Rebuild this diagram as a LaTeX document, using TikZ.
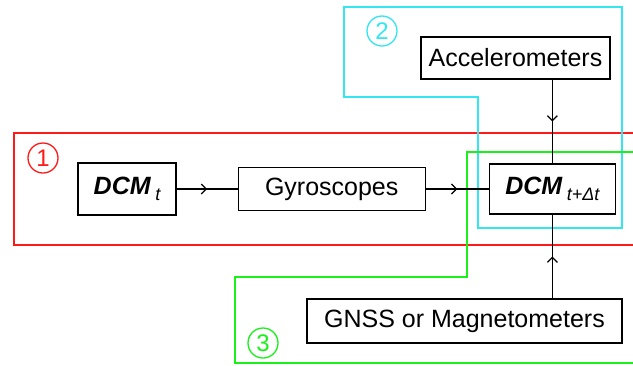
\documentclass[tikz,border=0pt]{standalone}
\usepackage{fontspec}
\setmainfont{Liberation Sans}
\usepackage{xcolor}
\usetikzlibrary{positioning,arrows.meta,decorations.markings}
\definecolor{groupred}{HTML}{FF1A1A}
\definecolor{groupcyan}{HTML}{33E6F0}
\definecolor{groupgreen}{HTML}{1AF01A}
\newcommand{\dcmlabel}[1]{\textbf{\textit{DCM}}\,\raisebox{-0.45ex}{\fontsize{18}{20}\selectfont\itshape #1}}

\begin{document}
\begin{tikzpicture}[
  x=1pt, y=-1pt,
  sensorbox/.style={
    rectangle, draw=black, line width=1.2pt, fill=white,
    inner sep=0pt, font=\fontsize{25}{30}\selectfont,
  },
  groupline/.style={line width=1.5pt},
  tagnum/.style={
    circle, draw, line width=1.3pt, minimum size=30pt,
    inner sep=0pt, font=\fontsize{24}{28}\selectfont,
  },
  flow/.style={
    line width=1.2pt,
    decoration={markings, mark=at position 0.5 with {\arrow{Straight Barb[length=5pt,width=10pt,line width=1.2pt]}}},
    postaction=decorate,
  },
]
\useasboundingbox (0,0) rectangle (633,365);
\clip (0,0) rectangle (633,365);

% group outlines
\draw[groupline, draw=groupred] (14,133) rectangle (645,245);
\draw[groupline, draw=groupcyan] (344,7) -- (622,7) -- (622,228) -- (478,228) -- (478,97) -- (344,97) -- cycle;
\draw[groupline, draw=groupgreen] (645,152) -- (467,152) -- (467,277) -- (235,277) -- (235,363) -- (645,363);

\node[tagnum, draw=groupred, text=groupred] (num1) at (43,158) {1};
\node[tagnum, draw=groupcyan, text=groupcyan] (num2) at (382,31) {2};
\node[tagnum, draw=groupgreen, text=groupgreen] (num3) at (263,343) {3};

% blocks
\node[sensorbox, minimum width=98pt, minimum height=52pt] (dcmt) at (127,189) {\dcmlabel{t}};
\node[sensorbox, minimum width=187pt, minimum height=43pt, right=61pt of dcmt] (gyro) {Gyroscopes};
\node[sensorbox, minimum width=126pt, minimum height=50pt, right=63pt of gyro] (dcmnext) {\dcmlabel{t+Δt}};
\node[sensorbox, minimum width=189pt, minimum height=42pt] (accel) at (515.5,58) {Accelerometers};
\node[sensorbox, minimum width=315pt, minimum height=44pt] (gnss) at (464.5,321) {GNSS or Magnetometers};

% connectors
\draw[flow] (dcmt) -- (gyro);
\draw[flow] (gyro) -- (dcmnext);
\draw[flow] (accel.south -| dcmnext) -- (dcmnext);
\draw[flow] (gnss.north -| dcmnext) -- (dcmnext);

\end{tikzpicture}
\end{document}
